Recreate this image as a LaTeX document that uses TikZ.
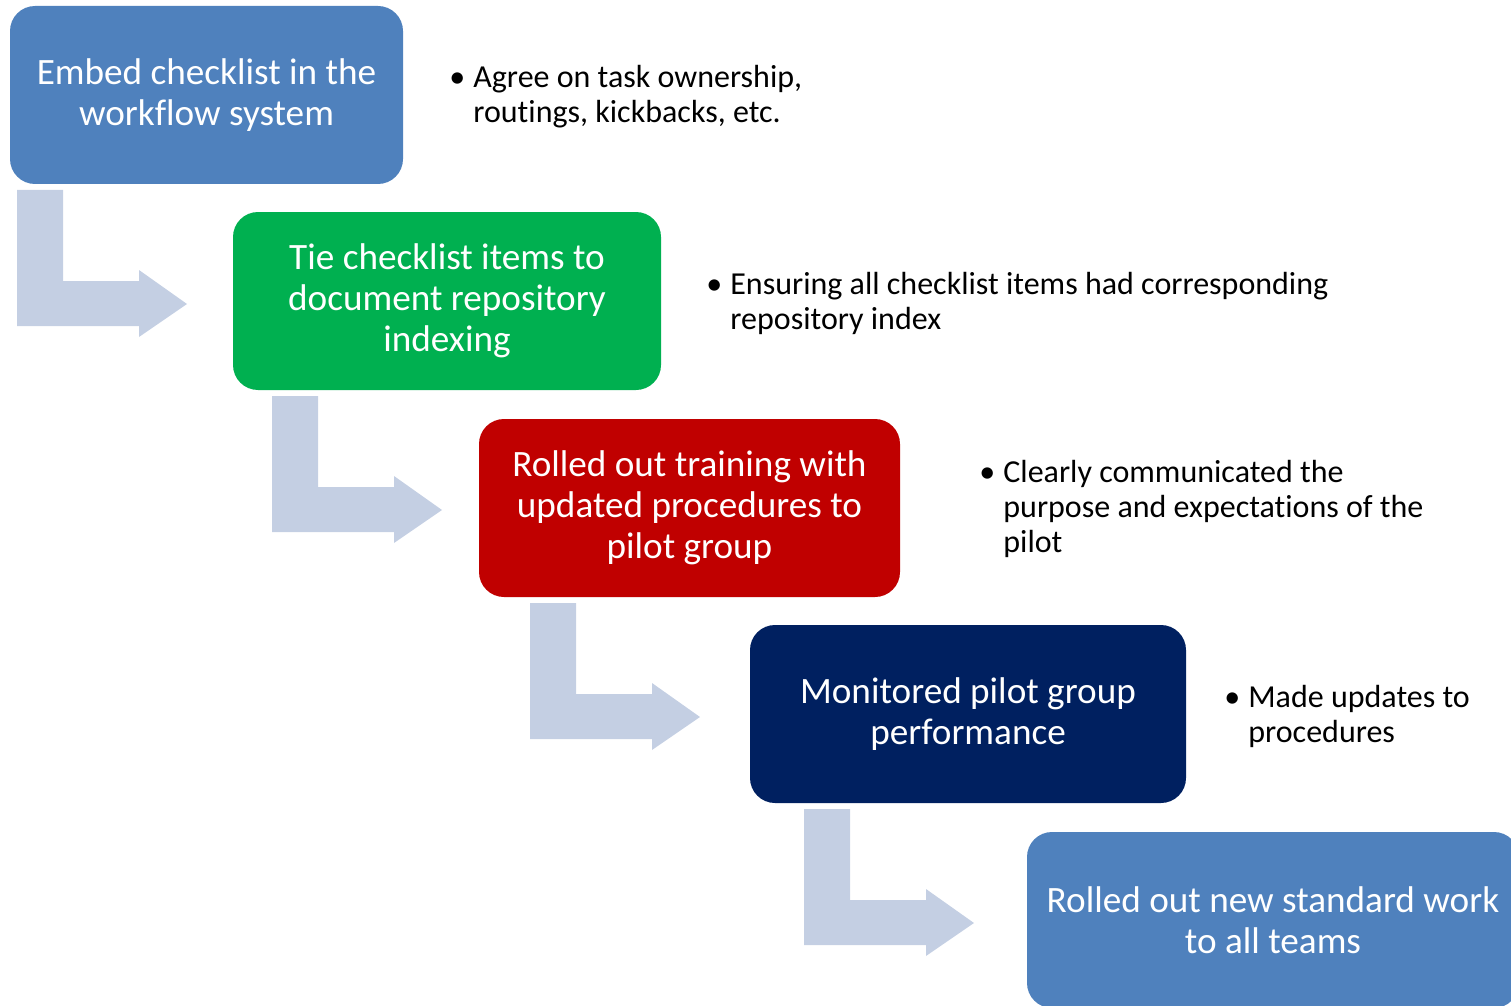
\documentclass[tikz,border=0pt]{standalone}
\usepackage{fontspec}
\setmainfont[Ligatures=NoCommon]{Carlito}
\definecolor{stepblue}{HTML}{4F81BD}
\definecolor{stepgreen}{HTML}{00B050}
\definecolor{stepred}{HTML}{C00000}
\definecolor{stepnavy}{HTML}{002060}
\definecolor{arrowgrey}{HTML}{C4CFE3}
\begin{document}
\begin{tikzpicture}[x=0.5pt, y=-0.5pt,
  step box/.style={rectangle, rounded corners=12.5pt, draw=none, text=white, align=center,
    minimum height=89pt, inner sep=0pt, font=\fontsize{18.6}{20.5}\selectfont},
  note/.style={anchor=west, align=left, inner sep=0pt, font=\fontsize{16}{17.5}\selectfont},
  bent arrow/.style={fill=arrowgrey}]%
\useasboundingbox (0,0) rectangle (1511,1006);
\clip (0,0) rectangle (1511,1006);
\newcommand{\bul}{\llap{\makebox[12pt][l]{\textbullet}}}
% bent arrows
\foreach \ax/\ay in {17/190, 272/396, 530/603, 804/809}
  \fill[bent arrow, shift={(\ax,\ay)}] (0,0) -- (46,0) -- (46,91) -- (122,91) -- (122,80)
    -- (170,114) -- (122,147) -- (122,136) -- (0,136) -- cycle;
\begin{scope}[every node/.style={step box}]
\node[fill=stepblue, minimum width=196.5pt] (s1) at (206.5,95) {Embed checklist in the\\workflow system};
\node[fill=stepgreen, minimum width=214pt] (s2) at (447,301) {Tie checklist items to\\document repository\\indexing};
\node[fill=stepred, minimum width=210.5pt] (s3) at (689.5,508) {Rolled out training  with\\updated procedures to\\pilot group};
\node[fill=stepnavy, minimum width=218pt] (s4) at (968,714) {Monitored pilot group\\performance};
\node[fill=stepblue, minimum width=246pt, minimum height=88pt] (s5) at (1273,920) {Rolled out new standard work\\to all teams};
\end{scope}
\begin{scope}[every node/.style={note}]
\node (n1) at (473,97) {\bul Agree on task ownership,\\routings, kickbacks, etc.};
\node (n2) at (730,303) {\bul Ensuring all checklist items had corresponding\\repository index};
\node (n3) at (1003,509) {\bul Clearly communicated the\\purpose and expectations of the\\pilot};
\node (n4) at (1248,716) {\bul Made updates to\\procedures};
\end{scope}
\end{tikzpicture}
\end{document}
